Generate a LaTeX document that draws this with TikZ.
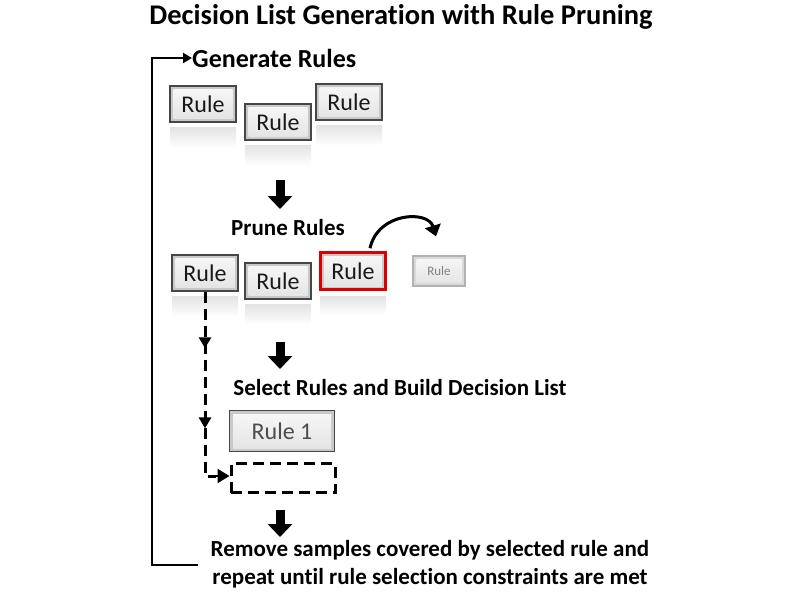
\documentclass[tikz,border=0pt]{standalone}
\usepackage{fontspec}
\setmainfont{Carlito}[Ligatures={NoCommon}]
\usetikzlibrary{arrows.meta,decorations.markings,calc}
\begin{document}
\begin{tikzpicture}[x=1pt,y=-1pt,
  rulebox/.style={draw=gray!55!black, line width=1.2pt, fill=gray!42,
     path picture={\fill[top color=gray!6, bottom color=gray!22]
        ([shift={(3.5pt,3.5pt)}]path picture bounding box.south west) rectangle
        ([shift={(-3.5pt,-3.5pt)}]path picture bounding box.north east);},
     minimum width=66pt, minimum height=36pt, inner sep=0pt, font=\fontsize{24}{26}\selectfont, text=black!90},
  refl/.style={top color=gray!22, bottom color=white, draw=none},
  heading/.style={font=\bfseries\fontsize{23}{26}\selectfont, inner sep=0pt},
  blockarrow/.style={line width=9pt, -{Triangle[width=24pt,length=13pt]}},
  dashline/.style={dash pattern=on 11pt off 6pt, line width=3pt}
]
\useasboundingbox (0,0) rectangle (800,600);
\node[font=\bfseries\fontsize{28.5}{30}\selectfont, inner sep=0pt] (title) at (401,17) {Decision List Generation with Rule Pruning};

% Generate
\node[heading, anchor=west, font=\bfseries\fontsize{26}{28}\selectfont] (gen) at (192,58) {Generate Rules};
\foreach \n/\x/\y in {g1/203/104, g2/278/122, g3/349/102}{
  \fill[refl] (\x-33,\y+23) rectangle (\x+33,\y+44);
  \node[rulebox] (\n) at (\x,\y) {Rule};
}

% arrow 1
\coordinate (a1s) at (280,180);
\coordinate (a1e) at (280,209);
\draw[blockarrow] (a1s) -- (a1e);

% Prune
\node[heading] (prune) at (288,228) {Prune Rules};
\foreach \n/\x/\y in {p1/205/273, p2/278/281}{
  \fill[refl] (\x-33,\y+23) rectangle (\x+33,\y+44);
  \node[rulebox] (\n) at (\x,\y) {Rule};
}
\fill[refl] (353-33,271+25) rectangle (353+33,271+44);
\node[rulebox, draw=red!85!black, line width=2.6pt, minimum width=65pt, minimum height=37pt] (p3) at (353,271) {Rule};
\node[rulebox, minimum width=52pt, minimum height=30pt, draw=gray!60, fill=gray!30,
      font=\fontsize{13}{15}\selectfont, text=gray] (p4) at (439,271) {Rule};
\draw[line width=3pt, -{Triangle[width=16pt,length=11pt]}] ($(p3.north)+(17,-3)$) .. controls (378,212) and (428,210) .. ($(p4.north)+(-3,-19)$);

% arrow 2
\coordinate (a2s) at (280,342);
\coordinate (a2e) at (280,369);
\draw[blockarrow] (a2s) -- (a2e);

% Select
\node[heading] (sel) at (400,388) {Select Rules and Build Decision List};
\node[rulebox, minimum width=105pt, minimum height=41pt, text=black!70] (r1) at (282,431) {Rule 1};
\node[draw, dashline, minimum width=104pt, minimum height=29pt, inner sep=0pt] (slot) at (283,478) {};

% dashed flow
\draw[dashline, postaction={decorate}, decoration={markings,
   mark=at position 0.29 with {\arrow[solid]{Triangle[width=12pt,length=11pt]}},
   mark=at position 0.70 with {\arrow[solid]{Triangle[width=12pt,length=11pt]}}}]
  (p1.south) -- (205,476) -- (216,476);
\draw[line width=2pt,-{Triangle[width=14pt,length=12pt]}] (216,476) -- (slot.west |- 0,476);

% arrow 3
\coordinate (a3s) at (280,510);
\coordinate (a3e) at (280,537);
\draw[blockarrow] (a3s) -- (a3e);

% Remove
\node[heading, align=center, font=\bfseries\fontsize{23}{28}\selectfont] (rem) at (430,564) {Remove samples covered by selected rule and\\repeat until rule selection constraints are met};

% loop back
\coordinate (lb) at (198,565);
\draw[line width=2.6pt, -{Triangle[width=10pt,length=9pt]}] (lb) -- (152,565) -- (152,58) -- (gen.west);
\end{tikzpicture}
\end{document}
